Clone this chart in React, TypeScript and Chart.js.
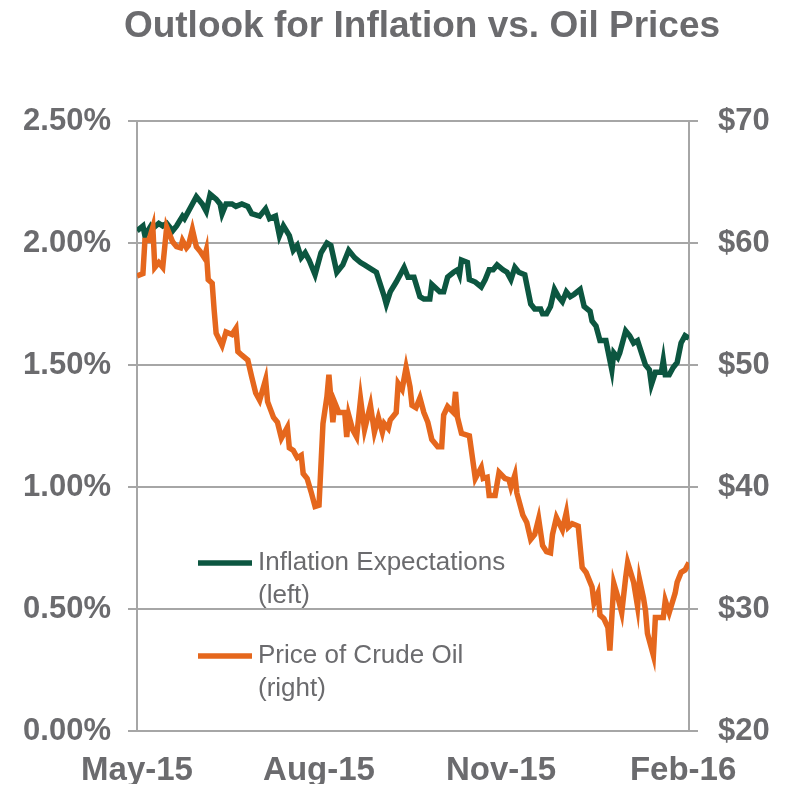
import { useEffect, useRef } from "react";
import { Chart, registerables } from "chart.js";

Chart.register(...registerables);

const TITLE = "Outlook for Inflation vs. Oil Prices";

// x positions are days since 1 May 2015
const tickDays = [0, 92, 184, 276];
const tickLabels = ["May-15", "Aug-15", "Nov-15", "Feb-16"];

const inflationDays = [
  0, 3, 4, 7, 8, 11, 13, 15, 18, 20, 23, 24, 28, 30, 33, 35, 37, 40, 42, 43, 45, 48, 50, 53, 56, 58,
  62, 65, 67, 70, 72, 74, 77, 79, 81, 83, 85, 87, 90, 93, 96, 98, 101, 104, 107, 110, 113, 115, 119,
  121, 125, 126, 128, 131, 135, 137, 140, 143, 145, 148, 149, 153, 155, 157, 160, 162, 163, 164, 167,
  168, 171, 174, 176, 178, 180, 182, 185, 187, 189, 191, 193, 196, 199, 201, 204, 205, 207, 209, 211,
  213, 215, 217, 219, 221, 224, 226, 229, 230, 232, 234, 237, 238, 240, 241, 243, 244, 247, 249, 251,
  253, 255, 257, 259, 260, 262, 265, 266, 267, 269, 271, 273, 275, 277, 279,
];
const inflationValues = [
  2.05, 2.07, 2.03, 2.07, 2.06, 2.08, 2.07, 2.08, 2.05, 2.07, 2.11, 2.1, 2.16, 2.19, 2.16, 2.13, 2.2,
  2.18, 2.16, 2.12, 2.16, 2.16, 2.15, 2.16, 2.15, 2.12, 2.11, 2.14, 2.1, 2.11, 2.03, 2.07, 2.03, 1.97,
  1.99, 1.94, 1.96, 1.93, 1.87, 1.96, 2.0, 1.99, 1.88, 1.91, 1.97, 1.94, 1.92, 1.91, 1.89, 1.88, 1.78,
  1.75, 1.8, 1.84, 1.9, 1.86, 1.86, 1.78, 1.77, 1.77, 1.83, 1.8, 1.8, 1.86, 1.88, 1.89, 1.87, 1.93,
  1.92, 1.85, 1.84, 1.82, 1.85, 1.89, 1.89, 1.91, 1.89, 1.88, 1.85, 1.9, 1.88, 1.87, 1.75, 1.73, 1.73,
  1.71, 1.71, 1.74, 1.81, 1.78, 1.76, 1.8, 1.78, 1.79, 1.81, 1.74, 1.72, 1.68, 1.66, 1.6, 1.6, 1.56,
  1.48, 1.55, 1.53, 1.55, 1.64, 1.62, 1.59, 1.6, 1.55, 1.5, 1.48, 1.42, 1.47, 1.47, 1.52, 1.46, 1.46,
  1.49, 1.51, 1.59, 1.62, 1.61,
];

const oilDays = [
  0, 3, 4, 6, 8, 9, 11, 13, 15, 18, 20, 22, 23, 25, 26, 28, 30, 32, 34, 35, 36, 38, 39, 40, 43, 45, 48,
  50, 51, 53, 56, 58, 60, 62, 65, 66, 69, 71, 73, 76, 77, 79, 81, 83, 84, 86, 88, 90, 92, 94, 96, 97,
  99, 100, 102, 105, 106, 107, 109, 111, 113, 115, 118, 120, 122, 124, 125, 127, 128, 131, 132, 134,
  136, 138, 139, 141, 143, 145, 147, 149, 152, 154, 155, 157, 160, 161, 162, 164, 168, 171, 174, 175,
  177, 178, 181, 183, 186, 188, 189, 191, 192, 195, 197, 199, 201, 203, 205, 207, 209, 210, 212, 215,
  217, 218, 220, 223, 225, 227, 230, 231, 233, 234, 236, 238, 239, 241, 243, 245, 247, 248, 251, 253,
  254, 256, 257, 258, 261, 262, 264, 266, 267, 269, 272, 273, 275, 277, 279,
];
const oilValues = [
  57.3, 57.5, 60.2, 60.2, 61.3, 58.0, 58.4, 58.0, 61.3, 60.1, 59.7, 59.6, 60.2, 59.6, 59.8, 61.1, 59.7,
  59.3, 58.8, 59.4, 57.0, 56.7, 54.5, 52.6, 51.6, 52.7, 52.5, 53.0, 51.1, 50.8, 50.4, 49.0, 47.7, 47.1,
  48.8, 47.0, 45.7, 45.3, 44.0, 44.9, 43.2, 43.0, 42.4, 42.6, 41.1, 40.7, 39.6, 38.4, 38.5, 45.2, 47.4,
  49.2, 45.3, 46.9, 46.1, 46.1, 44.1, 45.9, 44.7, 44.1, 47.2, 44.7, 46.7, 44.5, 45.7, 44.5, 45.2, 44.8,
  45.5, 46.1, 48.5, 48.0, 49.8, 48.2, 46.7, 46.5, 47.3, 46.1, 45.3, 43.9, 43.3, 43.3, 45.9, 46.6, 46.1,
  47.8, 45.7, 44.4, 44.2, 40.7, 41.6, 40.7, 40.8, 39.3, 39.3, 41.2, 40.7, 40.6, 40.0, 41.0, 39.5, 37.7,
  37.1, 35.7, 36.1, 37.4, 35.2, 34.7, 34.6, 36.1, 37.5, 36.5, 37.9, 36.7, 37.0, 36.8, 33.4, 33.0, 31.8,
  30.5, 31.3, 29.5, 29.2, 28.5, 26.6, 32.1, 31.0, 29.7, 32.6, 33.8, 32.2, 30.2, 32.4, 30.9, 29.9, 28.0,
  26.2, 29.3, 29.3, 29.3, 30.7, 29.7, 31.3, 32.2, 33.0, 33.2, 33.8,
];

const seriesNames = ["Inflation Expectations", "Price of Crude Oil"];
const seriesSubs = ["(left)", "(right)"];

const GREEN = "#0c5640";
const ORANGE = "#e5671d";
const TEXT = "#6b6b6e";
const GRID = "#a6a6a6";
const FONT = '"Liberation Sans", Arial, Helvetica, sans-serif';

const overlayPlugin = {
  id: "overlay",
  afterDraw(chart: any) {
    const { ctx, chartArea: a } = chart;
    ctx.save();
    ctx.fillStyle = TEXT;
    ctx.font = `bold 37px ${FONT}`;
    ctx.textAlign = "center";
    ctx.textBaseline = "alphabetic";
    ctx.fillText(TITLE, 414, 29);

    const colors = [GREEN, ORANGE];
    const rows = [442, 535];
    ctx.font = `26px ${FONT}`;
    ctx.textAlign = "left";
    ctx.textBaseline = "middle";
    for (let i = 0; i < 2; i++) {
      const y = a.top + rows[i];
      ctx.strokeStyle = colors[i];
      ctx.lineWidth = 5.5;
      ctx.beginPath();
      ctx.moveTo(a.left + 61, y);
      ctx.lineTo(a.left + 115, y);
      ctx.stroke();
      ctx.fillStyle = TEXT;
      ctx.fillText(seriesNames[i], a.left + 121, y);
      ctx.fillText(seriesSubs[i], a.left + 121, y + 33);
    }
    ctx.restore();
  },
};

export default function App() {
  const ref = useRef<HTMLCanvasElement>(null);
  useEffect(() => {
    const chart = new Chart(ref.current!, {
      type: "line",
      data: {
        datasets: [
          {
            label: seriesNames[0],
            data: inflationDays.map((d, i) => ({ x: d, y: inflationValues[i] })),
            borderColor: GREEN,
            borderWidth: 5.5,
            pointRadius: 0,
            tension: 0,
            yAxisID: "y",
            order: 1,
          },
          {
            label: seriesNames[1],
            data: oilDays.map((d, i) => ({ x: d, y: oilValues[i] })),
            borderColor: ORANGE,
            borderWidth: 5.5,
            pointRadius: 0,
            tension: 0,
            yAxisID: "y1",
            order: 0,
          },
        ],
      },
      options: {
        animation: false,
        responsive: true,
        maintainAspectRatio: false,
        layout: { padding: { top: 113, left: 0, right: 0, bottom: 0 } },
        plugins: {
          legend: { display: false },
          title: { display: false },
          tooltip: { enabled: false },
        },
        scales: {
          x: {
            type: "linear",
            min: 0,
            max: 279,
            afterBuildTicks(scale: any) {
              scale.ticks = tickDays.map((v) => ({ value: v }));
            },
            afterFit(scale: any) {
              scale.height = 53;
            },
            ticks: {
              autoSkip: false,
              maxRotation: 0,
              padding: 20,
              color: TEXT,
              font: { family: FONT, size: 33, weight: "bold" },
              callback: (v: any) => tickLabels[tickDays.indexOf(Number(v))] ?? "",
            },
            grid: { display: false, drawTicks: false },
            border: { display: false },
          },
          y: {
            position: "left",
            min: 0,
            max: 2.5,
            afterFit(scale: any) {
              scale.width = 129;
            },
            ticks: {
              stepSize: 0.5,
              padding: 17,
              color: TEXT,
              font: { family: FONT, size: 31, weight: "bold" },
              callback: (v: any) => Number(v).toFixed(2) + "%",
            },
            grid: { color: GRID, lineWidth: 2, tickLength: 9, drawTicks: true },
            border: { display: true, color: GRID, width: 2 },
          },
          y1: {
            position: "right",
            min: 20,
            max: 70,
            afterFit(scale: any) {
              scale.width = 89;
            },
            ticks: {
              stepSize: 10,
              padding: 20,
              color: TEXT,
              font: { family: FONT, size: 31, weight: "bold" },
              callback: (v: any) => "$" + v,
            },
            grid: { drawOnChartArea: false, color: GRID, lineWidth: 2, tickLength: 9 },
            border: { display: true, color: GRID, width: 2 },
          },
        },
      },
      plugins: [overlayPlugin],
    });
    return () => chart.destroy();
  }, []);
  return (
    <div style={{ width: 770, height: 776, position: "relative" }}>
      <canvas ref={ref} />
    </div>
  );
}
